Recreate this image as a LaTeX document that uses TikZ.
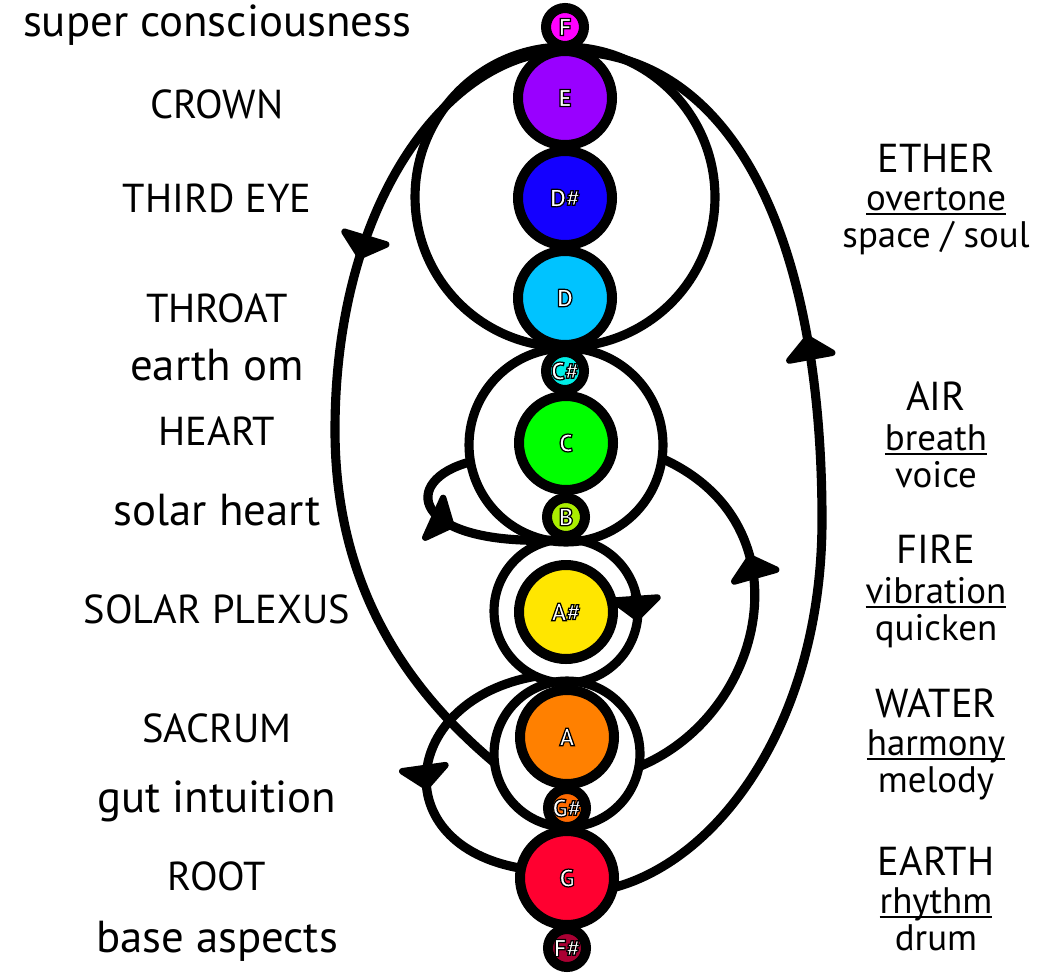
\documentclass[tikz,border=0pt]{standalone}
\usepackage{fontspec}
\setmainfont{PT Sans}
\usetikzlibrary{arrows.meta,decorations.markings,backgrounds}
\definecolor{noteF}{HTML}{FF00FF}
\definecolor{noteE}{HTML}{9900FF}
\definecolor{noteDs}{HTML}{1400FF}
\definecolor{noteD}{HTML}{00C3FF}
\definecolor{noteCs}{HTML}{00EEE6}
\definecolor{noteC}{HTML}{00FF00}
\definecolor{noteB}{HTML}{AAEE00}
\definecolor{noteAs}{HTML}{FFE600}
\definecolor{noteA}{HTML}{FF8000}
\definecolor{noteGs}{HTML}{FF6A00}
\definecolor{noteG}{HTML}{FF0030}
\definecolor{noteFs}{HTML}{AA0033}
% white letters with a black outline
\font\notefont="PT Sans Bold:embolden=5" at 14pt
\newcommand{\notename}[1]{\special{pdf:bcolor [1] [0]}{\notefont #1}\special{pdf:ecolor}}
\newcommand{\uword}[1]{\leavevmode\setbox0=\hbox{#1}\rlap{\rule[-2.8pt]{\wd0}{1.1pt}}\box0}

\begin{document}
\begin{tikzpicture}[x=0.02cm, y=-0.02cm,
  chakra/.style={circle, draw=black, line width=5.7pt, outer sep=0pt, inner sep=0pt},
  major/.style={chakra, minimum size=1.88cm},
  minor/.style={chakra, minimum size=0.76cm},
  ring/.style={circle, draw=black, line width=5.2pt, outer sep=0pt, inner sep=0pt},
  flow/.style={draw=black, line width=5.2pt},
  tipat/.style={postaction={decorate, decoration={markings, mark=at position #1 with {\arrow{Triangle[width=34pt,length=15pt,round]}}}}},
  centre/.style={anchor=base, font=\fontsize{23}{28}\selectfont},
  feeling/.style={anchor=base, font=\fontsize{25.5}{28}\selectfont},
  sense/.style={anchor=base, font=\fontsize{21}{24}\selectfont}]
\useasboundingbox (0,0) rectangle (1061,974);
% ---- chakra notes, top to bottom
\node[minor, fill=noteF] (F) at (565,27) {\notename{F}};
\node[major, fill=noteE] (E) at (565,98) {\notename{E}};
\node[major, fill=noteDs] (Ds) at (565,198) {\notename{D\#}};
\node[major, fill=noteD] (D) at (565,298) {\notename{D}};
\node[minor, fill=noteCs] (Cs) at (565,371) {\notename{C\#}};
\node[major, fill=noteC] (C) at (566,443) {\notename{C}};
\node[minor, fill=noteB] (B) at (566,517) {\notename{B}};
\node[major, fill=noteAs] (As) at (566,612) {\notename{A\#}};
\node[major, fill=noteA] (A) at (567,737) {\notename{A}};
\node[minor, fill=noteGs] (Gs) at (567,808) {\notename{G\#}};
\node[major, fill=noteG] (G) at (567,878) {\notename{G}};
\node[minor, fill=noteFs] (Fs) at (567,948) {\notename{F\#}};
% ---- rings and flows, behind the notes
\begin{scope}[on background layer]
\node[ring, minimum size=6cm] (upperring) at (565,197) {};
\node[ring, minimum size=3.88cm] (heartring) at (566,445) {};
\node[ring, minimum size=2.88cm] (plexusring) at (566,611) {};
\node[ring, minimum size=2.92cm] (sacralring) at (567,754) {};
\draw[flow, tipat=0.61] (G.-12) .. controls (720,860) and (822,720) .. (822,520)
  .. controls (822,250) and (740,51) .. (E.north);
\draw[flow, tipat=0.36] (E.north) .. controls (450,51) and (335,200) .. (335,430)
  .. controls (335,600) and (420,700) .. (sacralring.187);
\draw[flow, tipat=0.66] (sacralring.-10) .. controls (765,715) and (810,525) .. (heartring.-8);
\draw[flow, tipat=0.5] (heartring.190) .. controls (400,480) and (410,545) .. (plexusring.100);
\draw[flow, tipat=0.57] (plexusring.245) .. controls (400,700) and (385,845) .. (G.168);
\draw[flow, -{Triangle[width=34pt,length=15pt,round]}] (plexusring.16) -- (plexusring.-8);
\end{scope}
% ---- left column: chakras
\node[feeling] (lsuper) at (217,36) {super consciousness};
\node[centre] (lcrown) at (217,118) {CROWN};
\node[centre] (lthird) at (217,212) {THIRD EYE};
\node[centre] (lthroat) at (217,322) {THROAT};
\node[feeling] (learth) at (217,380) {earth om};
\node[centre] (lheart) at (217,445) {HEART};
\node[feeling] (lsolar) at (217,525) {solar heart};
\node[centre] (lplexus) at (217,623) {SOLAR PLEXUS};
\node[centre] (lsacrum) at (217,742) {SACRUM};
\node[feeling] (lgut) at (217,812) {gut intuition};
\node[centre] (lroot) at (217,890) {ROOT};
\node[feeling] (lbase) at (217,952) {base aspects};
% ---- right column: elements
\node[centre] (rether) at (936,172) {ETHER};
\node[sense] (rovertone) at (936,210) {\uword{overtone}};
\node[sense] (rspace) at (936,247) {space / soul};
\node[centre] (rair) at (936,410) {AIR};
\node[sense] (rbreath) at (936,450) {\uword{breath}};
\node[sense] (rvoice) at (936,487) {voice};
\node[centre] (rfire) at (936,563) {FIRE};
\node[sense] (rvibration) at (936,603) {\uword{vibration}};
\node[sense] (rquicken) at (936,640) {quicken};
\node[centre] (rwater) at (936,717) {WATER};
\node[sense] (rharmony) at (936,755) {\uword{harmony}};
\node[sense] (rmelody) at (936,792) {melody};
\node[centre] (rearth) at (936,875) {EARTH};
\node[sense] (rrhythm) at (936,913) {\uword{rhythm}};
\node[sense] (rdrum) at (936,950) {drum};
\end{tikzpicture}
\end{document}
